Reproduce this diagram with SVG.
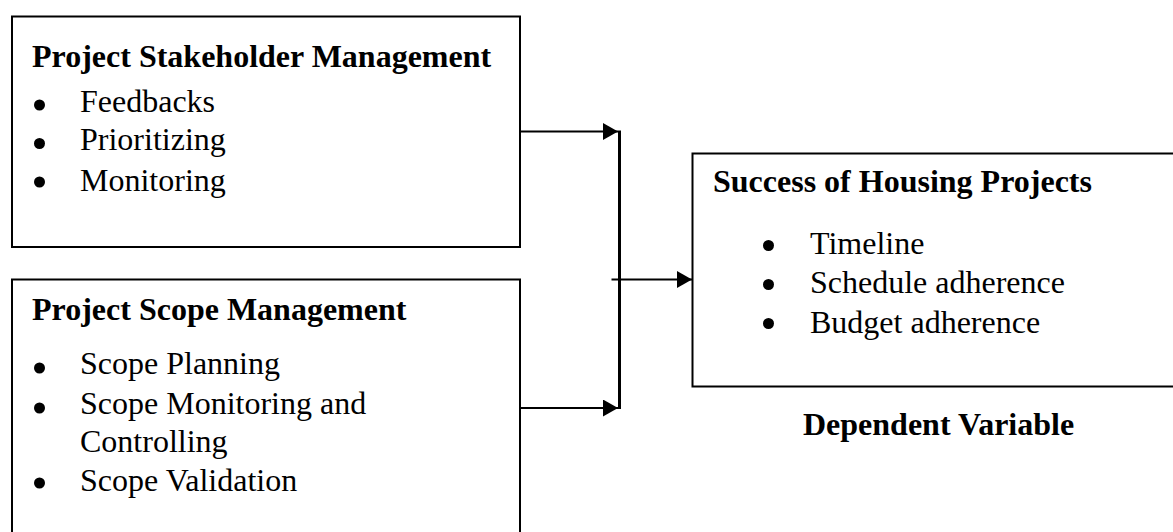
<svg xmlns="http://www.w3.org/2000/svg" width="1173" height="532" viewBox="0 0 1173 532">
<style>
.box{fill:#fff;stroke:#000;stroke-width:2}
.t{font-family:"Liberation Serif","Times New Roman",serif;font-size:32px;fill:#000}
.b{font-weight:bold}
.dot{fill:#000}
.ln{stroke:#000;stroke-width:2;fill:none}
</style>
<defs>
<marker id="ah" markerUnits="userSpaceOnUse" markerWidth="16" markerHeight="18" refX="15" refY="8.5" orient="auto">
<path d="M0,0 L15,8.5 L0,17 Z" fill="#000"/>
</marker>
</defs>
<rect width="1173" height="532" fill="#fff"/>
<g id="stakeholder">
<rect class="box" x="12" y="16.5" width="508" height="230.5"/>
<text class="t b" x="32" y="66.5">Project Stakeholder Management</text>
<circle class="dot" cx="39.5" cy="105" r="5.5"/>
<text class="t" x="80" y="111.5">Feedbacks</text>
<circle class="dot" cx="39.5" cy="143.5" r="5.5"/>
<text class="t" x="80" y="150">Prioritizing</text>
<circle class="dot" cx="39.5" cy="182" r="5.5"/>
<text class="t" x="80" y="190.5">Monitoring</text>
</g>
<g id="scope">
<rect class="box" x="12" y="279.5" width="508" height="262"/>
<text class="t b" x="32" y="320">Project Scope Management</text>
<circle class="dot" cx="39.5" cy="368" r="5.5"/>
<text class="t" x="80" y="373.5">Scope Planning</text>
<circle class="dot" cx="39.5" cy="408" r="5.5"/>
<text class="t" x="80" y="413.5">Scope Monitoring and</text>
<text class="t" x="80" y="452">Controlling</text>
<circle class="dot" cx="39.5" cy="483" r="5.5"/>
<text class="t" x="80" y="490.5">Scope Validation</text>
</g>
<g id="success">
<rect class="box" x="692.5" y="153.5" width="500" height="233"/>
<text class="t b" x="713" y="191.5">Success of Housing Projects</text>
<circle class="dot" cx="768.5" cy="245.5" r="5.5"/>
<text class="t" x="810" y="254">Timeline</text>
<circle class="dot" cx="768.5" cy="284.5" r="5.5"/>
<text class="t" x="810" y="293">Schedule adherence</text>
<circle class="dot" cx="768.5" cy="323.5" r="5.5"/>
<text class="t" x="810" y="332.5">Budget adherence</text>
</g>
<g id="dependent-label">
<text class="t b" x="803" y="435">Dependent Variable</text>
</g>
<g id="connectors">
<line class="ln" x1="520" y1="131.5" x2="618" y2="131.5" marker-end="url(#ah)"/>
<line class="ln" x1="520" y1="408" x2="618" y2="408" marker-end="url(#ah)"/>
<line x1="619.5" y1="130.5" x2="619.5" y2="409" stroke="#000" stroke-width="3"/>
<line class="ln" x1="611.5" y1="279.5" x2="692" y2="279.5" marker-end="url(#ah)"/>
</g>
</svg>
